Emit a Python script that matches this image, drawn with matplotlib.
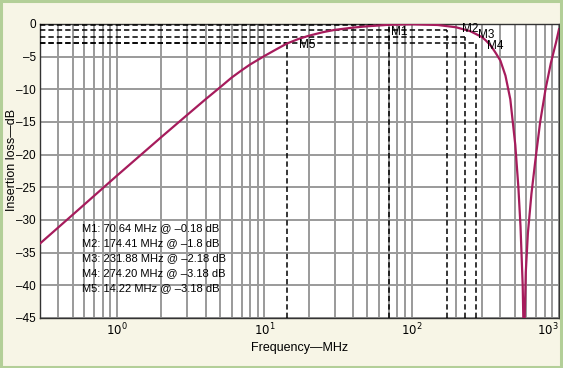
import matplotlib
matplotlib.use("Agg")
import matplotlib.pyplot as plt
from matplotlib.patches import Rectangle
from matplotlib.ticker import LogLocator, FixedLocator, NullFormatter

# ---- data ----
freq_mhz = [0.3, 0.5, 1, 2, 3, 4, 5, 6, 7, 8, 10, 12, 14.2, 17, 20, 25, 30, 40,
            50, 70, 100, 150, 200, 250, 300, 318, 344, 371, 400, 433, 467, 505,
            530, 548, 567, 578, 595, 615, 650, 690, 745, 810, 880, 955, 1000]
loss_db = [-33.6, -29.2, -23.2, -17.3, -13.9, -11.5, -9.7, -8.2, -7.1, -6.2,
           -4.9, -3.9, -3.0, -2.3, -1.8, -1.25, -0.9, -0.55, -0.35, -0.12,
           -0.05, -0.15, -0.5, -1.1, -2.0, -2.5, -3.3, -4.4, -5.6, -7.9, -11.5,
           -18.5, -25, -31, -40, -50, -38, -32, -26, -21, -15, -10, -6, -2.8,
           -0.8]

marker_names = ["M1", "M2", "M3", "M4", "M5"]
marker_freq = [70.64, 174.41, 231.88, 274.20, 14.22]
marker_level = [-0.18, -0.95, -1.95, -2.95, -2.95]   # drawn positions
marker_text = ["M1: 70.64 MHz @ \u20130.18 dB",
               "M2: 174.41 MHz @ \u20131.8 dB",
               "M3: 231.88 MHz @ \u20132.18 dB",
               "M4: 274.20 MHz @ \u20133.18 dB",
               "M5: 14.22 MHz @ \u20133.18 dB"]
y_ticks = [0, -5, -10, -15, -20, -25, -30, -35, -40, -45]
x_ticks = [1, 10, 100, 1000]
x_tick_labels = ["$10^0$", "$10^1$", "$10^2$", "$10^3$"]

FONT = ["Liberation Sans Narrow", "Liberation Sans", "DejaVu Sans"]
plt.rcParams['font.family'] = FONT

W, H = 563, 368
fig = plt.figure(figsize=(W / 100, H / 100), dpi=100, facecolor="#f7f5e6")
fig.patches.append(Rectangle((0.002, 0.003), 0.995, 0.993, transform=fig.transFigure,
                             fill=False, edgecolor="#b3cf98", linewidth=2.2))

ax = fig.add_axes([40 / W, 1 - 318 / H, (559 - 40) / W, (318 - 24) / H])
ax.set_facecolor("white")
ax.set_xscale("log")
ax.set_xlim(0.3, 1000)
ax.set_ylim(-45, 0)

# grid
ax.xaxis.set_major_locator(FixedLocator(x_ticks))
ax.xaxis.set_minor_locator(LogLocator(base=10, subs=range(2, 10), numticks=20))
ax.xaxis.set_minor_formatter(NullFormatter())
ax.set_yticks(y_ticks)
ax.grid(True, which="both", axis="x", color="#9a9a9a", linewidth=1.4)
ax.grid(True, which="major", axis="y", color="#9a9a9a", linewidth=1.4)
ax.set_axisbelow(True)
ax.tick_params(which="both", length=0, labelsize=8.5, pad=3)
ax.set_xticklabels(x_tick_labels)
ax.get_xticklabels()[-1].set_horizontalalignment("right")
ax.set_yticklabels([("\u2013" + str(-v)) if v < 0 else "0" for v in y_ticks])
for s in ax.spines.values():
    s.set_color("#333333")
    s.set_linewidth(1.0)

# marker dashed lines
for f, lvl in zip(marker_freq, marker_level):
    ax.plot([f, f], [-45, lvl], color="black", linestyle=(0, (3.5, 2)), linewidth=1.1, zorder=3)
    ax.plot([0.3, f], [lvl, lvl], color="black", linestyle=(0, (3.5, 2)), linewidth=1.1, zorder=3)

# curve
ax.plot(freq_mhz, loss_db, color="#a61c5c", linewidth=1.6, zorder=4, clip_on=True)

# marker labels
lab_pos = [(399, 32), (470, 29), (486, 35), (495, 46), (307, 45)]
for name, (px, py) in zip(marker_names, lab_pos):
    ax.annotate(name, xy=(px, H - py), xycoords="figure pixels", ha="center",
                va="center", fontsize=8.5, zorder=5)

# marker list text
for i, t in enumerate(marker_text):
    ax.annotate(t, xy=(82, H - (228 + 15 * i)), xycoords="figure pixels", ha="left",
                va="center", fontsize=8, zorder=5)

ax.set_xlabel("Frequency\u2014MHz", fontsize=9, labelpad=2)
fig.text(12 / W, 1 - 160 / H, "Insertion loss\u2014dB", rotation=90, ha="center",
         va="center", fontsize=9)

fig.savefig("out.png", dpi=100, facecolor=fig.get_facecolor())
